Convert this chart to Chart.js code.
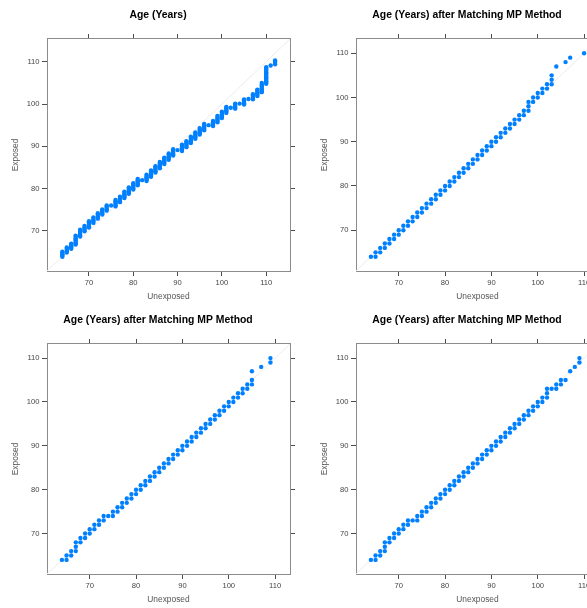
<!DOCTYPE html>
<html>
<head>
<meta charset="utf-8">
<script src="https://cdn.jsdelivr.net/npm/chart.js@4/dist/chart.umd.min.js"></script>
<style>
    body { margin: 0; width: 587px; height: 608px; overflow: hidden; background: #fff; position: relative; }
    canvas { position: absolute; }
</style>
</head>
<body>
<canvas id="panelAge" width="316" height="305" style="left:0px;top:0px"></canvas>
<canvas id="panelMP1" width="316" height="305" style="left:309px;top:0px"></canvas>
<canvas id="panelMP2" width="316" height="303" style="left:0px;top:305px"></canvas>
<canvas id="panelMP3" width="316" height="303" style="left:309px;top:305px"></canvas>
<script>
// Tick labels shared by every panel (both axes)
const tickValues = [70, 80, 90, 100, 110];

// Panel 1: Age (Years) - unexposed ages and the exposed quantiles read at each one
const ageUnexposed = [64, 65, 66, 67, 68, 69, 70, 71, 72, 73, 74, 75, 76, 77, 78, 79, 80, 81, 82, 83, 84, 85,
    86, 87, 88, 89, 90, 91, 92, 93, 94, 95, 96, 97, 98, 99, 100, 101, 102, 103, 104, 105, 106, 107, 108,
    109, 110, 111, 112];
const ageExposed = [
    [63.9, 64.2, 64.5, 64.8, 65.1],
    [64.9, 65.2, 65.5, 65.8, 66.1],
    [65.8, 66.1, 66.4, 66.7, 67.0],
    [66.8, 67.1, 67.4, 67.7, 68.0, 68.3, 68.6, 68.9],
    [68.7, 69.0, 69.3, 69.6, 70.0, 70.3],
    [69.9, 70.2, 70.5, 70.8, 71.2],
    [70.8, 71.1, 71.4, 71.7, 72.0, 72.3],
    [71.9, 72.2, 72.5, 72.8, 73.2],
    [72.9, 73.2, 73.5, 73.8, 74.2],
    [73.9, 74.2, 74.5, 74.8, 75.1],
    [74.8, 75.1, 75.4, 75.7, 76.0],
    [76.0],
    [75.8, 76.1, 76.4, 76.7, 77.0, 77.3],
    [76.8, 77.1, 77.4, 77.7, 78.1],
    [77.8, 78.1, 78.4, 78.7, 79.0, 79.3],
    [78.8, 79.1, 79.4, 79.7, 80.0, 80.3],
    [79.8, 80.1, 80.4, 80.7, 81.0, 81.3],
    [80.8, 81.1, 81.4, 81.7, 82.0, 82.3],
    [82.0],
    [81.8, 82.1, 82.4, 82.7, 83.0, 83.3],
    [82.8, 83.1, 83.4, 83.7, 84.0, 84.3],
    [83.8, 84.1, 84.4, 84.7, 85.0, 85.3],
    [84.8, 85.1, 85.4, 85.7, 86.0, 86.3],
    [85.8, 86.1, 86.4, 86.7, 87.0, 87.3],
    [86.8, 87.1, 87.4, 87.7, 88.0, 88.3],
    [87.8, 88.1, 88.4, 88.7, 89.0, 89.3],
    [89.1],
    [88.9, 89.2, 89.5, 89.8, 90.1, 90.4],
    [89.8, 90.1, 90.4, 90.7, 91.0, 91.2],
    [90.8, 91.1, 91.4, 91.7, 92.0, 92.3],
    [91.8, 92.1, 92.4, 92.7, 93.0, 93.3],
    [92.8, 93.1, 93.4, 93.7, 94.0, 94.3],
    [93.8, 94.1, 94.4, 94.7, 95.0, 95.3],
    [95.0],
    [94.8, 95.1, 95.4, 95.7, 96.0],
    [95.7, 96.0, 96.3, 96.6, 96.9, 97.2],
    [96.7, 97.0, 97.3, 97.6, 97.9, 98.2],
    [97.9, 98.2, 98.5, 98.8, 99.1, 99.3],
    [99.1],
    [98.9, 99.2, 99.5, 99.8, 100.1],
    [100.1],
    [99.9, 100.2, 100.5, 100.8, 101.1],
    [101.2],
    [101.1, 101.4, 101.7, 102.0, 102.3],
    [101.9, 102.2, 102.5, 102.8, 103.1, 103.4],
    [102.8, 103.1, 103.4, 103.7, 104.0, 104.3, 104.6, 105.0],
    [104.8, 105.1, 105.4, 105.7, 106.0, 106.3, 106.6, 106.9, 107.2, 107.5, 107.8, 108.1, 108.4, 108.7],
    [109.1],
    [109.4, 109.7, 110.0, 110.3]
];

// Panel 2: after matching (top right)
const mp1Unexposed = [64, 65, 66, 67, 68, 69, 70, 71, 72, 73, 74, 75, 76, 77, 78, 79, 80, 81, 82, 83, 84, 85,
    86, 87, 88, 89, 90, 91, 92, 93, 94, 95, 96, 97, 98, 99, 100, 101, 102, 103, 104, 106, 107, 110];
const mp1Exposed = [[64], [64, 65], [65, 66], [66, 67], [67, 68], [68, 69], [69, 70], [70, 71], [71, 72],
    [72, 73], [73, 74], [74, 75], [75, 76], [76, 77], [77, 78], [78, 79], [79, 80], [80, 81], [81, 82],
    [82, 83], [83, 84], [84, 85], [85, 86], [86, 87], [87, 88], [88, 89], [89, 90], [90, 91], [91, 92],
    [92, 93], [93, 94], [94, 95], [95, 96], [96, 97], [97, 98, 99], [99, 100], [100, 101], [101, 102],
    [102, 103], [103, 104, 105], [107], [108], [109], [110]];

// Panel 3: after matching (bottom left)
const mp2Unexposed = [64, 65, 66, 67, 68, 69, 70, 71, 72, 73, 74, 75, 76, 77, 78, 79, 80, 81, 82, 83, 84, 85,
    86, 87, 88, 89, 90, 91, 92, 93, 94, 95, 96, 97, 98, 99, 100, 101, 102, 103, 104, 105, 107, 109];
const mp2Exposed = [[64], [64, 65], [65, 66], [66, 67, 68], [68, 69], [69, 70], [70, 71], [71, 72], [72, 73],
    [73, 74], [74], [74, 75], [75, 76], [76, 77], [77, 78], [78, 79], [79, 80], [80, 81], [81, 82],
    [82, 83], [83, 84], [84, 85], [85, 86], [86, 87], [87, 88], [88, 89], [89, 90], [90, 91], [91, 92],
    [92, 93], [93, 94], [94, 95], [95, 96], [96, 97], [97, 98], [98, 99], [99, 100], [100, 101],
    [101, 102], [102, 103], [103, 104], [104, 105, 107], [108], [109, 110]];

// Panel 4: after matching (bottom right)
const mp3Unexposed = [64, 65, 66, 67, 68, 69, 70, 71, 72, 73, 74, 75, 76, 77, 78, 79, 80, 81, 82, 83, 84, 85,
    86, 87, 88, 89, 90, 91, 92, 93, 94, 95, 96, 97, 98, 99, 100, 101, 102, 103, 104, 105, 106, 107, 108, 109];
const mp3Exposed = [[64], [64, 65], [65, 66], [66, 67, 68], [68, 69], [69, 70], [70, 71], [71, 72], [72, 73],
    [73], [73, 74], [74, 75], [75, 76], [76, 77], [77, 78], [78, 79], [79, 80], [80, 81], [81, 82],
    [82, 83], [83, 84], [84, 85], [85, 86], [86, 87], [87, 88], [88, 89], [89, 90], [90, 91], [91, 92],
    [92, 93], [93, 94], [94, 95], [95, 96], [96, 97], [97, 98], [98, 99], [99, 100], [100, 101],
    [101, 102, 103], [103], [103, 104], [104, 105], [105], [107], [108], [109, 110]];

const FONT = '"Liberation Sans", Arial, sans-serif';
Chart.defaults.font.family = FONT;
Chart.defaults.color = '#4a4a4a';

// Flatten the grouped quantiles into {x, y} points
function toPoints(xs, ys) {
    const pts = [];
    xs.forEach((x, i) => ys[i].forEach(y => pts.push({ x: x, y: y })));
    return pts;
}

// Lattice style limits: same range on both axes, extended by 7%
function qqLimits(xs, ys) {
    const all = xs.concat(ys.flat());
    const lo = Math.min(...all);
    const hi = Math.max(...all);
    const pad = (hi - lo) * 0.07;
    return [lo - pad, hi + pad];
}

function axis(position, lim, showLabels, fitSize) {
    const horizontal = position === 'top' || position === 'bottom';
    return {
        type: 'linear',
        position: position,
        min: lim[0],
        max: lim[1],
        afterBuildTicks: scale => { scale.ticks = tickValues.map(v => ({ value: v })); },
        afterFit: scale => {
            if (horizontal) scale.height = fitSize;
            else scale.width = fitSize;
        },
        grid: { drawOnChartArea: false, drawTicks: true, tickLength: 5, color: '#4d4d4d' },
        border: { display: true, color: '#8c8c8c', width: 1 },
        ticks: {
            display: showLabels,
            padding: horizontal ? 2.5 : 2.5,
            font: { size: 7.6 },
            color: '#444',
        },
    };
}

function createQQPanel(canvasId, title, xs, ys) {
    const ctx = document.getElementById(canvasId).getContext('2d');
    const lim = qqLimits(xs, ys);

    const xAxis = axis('bottom', lim, true, 34);
    xAxis.title = { display: true, text: 'Unexposed', font: { size: 8.4 }, color: '#555', padding: { top: 0, bottom: 3 } };
    const yAxis = axis('left', lim, true, 47);
    yAxis.title = { display: true, text: 'Exposed', font: { size: 8.4 }, color: '#555', padding: { top: 11, bottom: 0 } };

    return new Chart(ctx, {
        type: 'scatter',
        data: {
            datasets: [
                {
                    label: title,
                    data: toPoints(xs, ys),
                    pointRadius: 2.2,
                    pointBorderWidth: 0,
                    pointBackgroundColor: '#0080ff',
                    pointBorderColor: '#0080ff',
                },
                {
                    // reference line y = x
                    label: 'reference',
                    data: [{ x: lim[0], y: lim[0] }, { x: lim[1], y: lim[1] }],
                    showLine: true,
                    pointRadius: 0,
                    borderColor: '#ebebeb',
                    borderWidth: 1,
                },
            ],
        },
        options: {
            responsive: false,
            animation: false,
            layout: { padding: 0 },
            scales: {
                x: xAxis,
                x2: axis('top', lim, false, 17.5),
                y: yAxis,
                y2: axis('right', lim, false, 26),
            },
            plugins: {
                legend: { display: false },
                tooltip: { enabled: false },
                title: {
                    display: true,
                    text: title,
                    color: '#000',
                    font: { size: 10.4, weight: 'bold' },
                    padding: { top: 9, bottom: 0 },
                },
            },
        },
    });
}

createQQPanel('panelAge', 'Age (Years)', ageUnexposed, ageExposed);
createQQPanel('panelMP1', 'Age (Years) after Matching MP Method', mp1Unexposed, mp1Exposed);
createQQPanel('panelMP2', 'Age (Years) after Matching MP Method', mp2Unexposed, mp2Exposed);
createQQPanel('panelMP3', 'Age (Years) after Matching MP Method', mp3Unexposed, mp3Exposed);
</script>
</body>
</html>
